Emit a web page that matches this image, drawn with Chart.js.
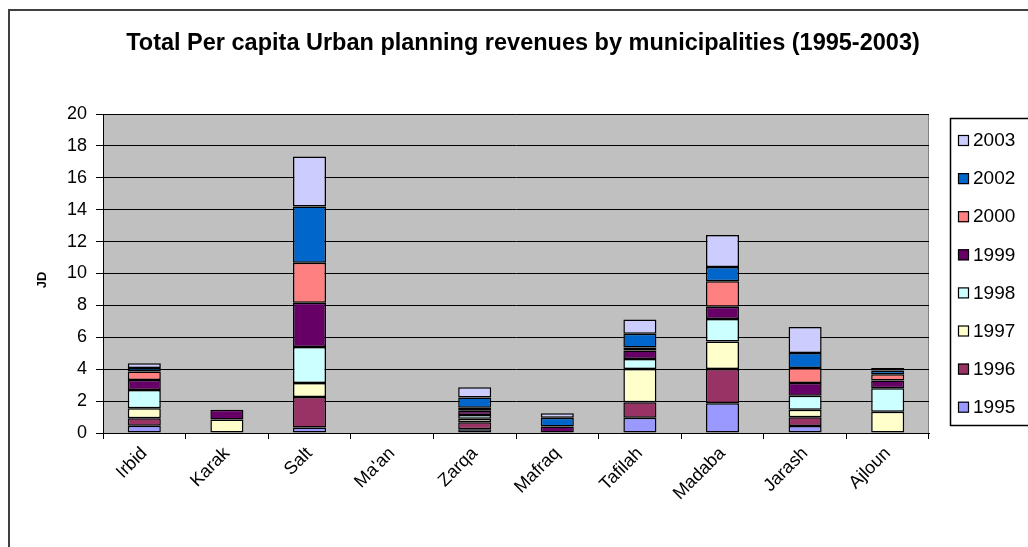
<!DOCTYPE html>
<html><head><meta charset="utf-8">
<script src="https://cdn.jsdelivr.net/npm/chart.js@4/dist/chart.umd.min.js"></script>
<style>
html,body{margin:0;padding:0;background:#fff;}
#wrap{position:relative;width:1028px;height:547px;}
#frame{position:absolute;left:8px;top:9px;width:1040px;height:560px;border:2px solid #404040;box-sizing:border-box;}
canvas{position:absolute;left:0;top:0;}
</style></head><body>
<div id="wrap"><div id="frame"></div><canvas id="c" width="1028" height="547"></canvas></div>
<script>
const categories = ["Irbid","Karak","Salt","Ma'an","Zarqa","Mafraq","Tafilah","Madaba","Jarash","Ajloun"];
const years = ["1995","1996","1997","1998","1999","2000","2002","2003"];
const v1995 = [0.45, 0,    0.34, 0, 0.23, 0,    0.96, 1.87, 0.44, 0];
const v1996 = [0.48, 0,    1.91, 0, 0.44, 0,    0.97, 2.14, 0.55, 0];
const v1997 = [0.62, 0.85, 0.88, 0, 0.23, 0,    2.08, 1.73, 0.46, 1.34];
const v1998 = [1.15, 0,    2.26, 0, 0.23, 0,    0.63, 1.41, 0.88, 1.47];
const v1999 = [0.63, 0.6,  2.77, 0, 0.27, 0.4,  0.54, 0.76, 0.80, 0.48];
const v2000 = [0.53, 0,    2.51, 0, 0.19, 0,    0.18, 1.61, 0.94, 0.40];
const v2002 = [0.21, 0,    3.53, 0, 0.63, 0.56, 0.87, 0.88, 0.94, 0.23];
const v2003 = [0.31, 0,    3.14, 0, 0.65, 0.28, 0.88, 2.01, 1.64, 0.15];
const yTicks = [0,2,4,6,8,10,12,14,16,18,20];
const colors = ["#9999FF","#993366","#FFFFCC","#CCFFFF","#660066","#FF8080","#0066CC","#CCCCFF"];
const seriesValues = [v1995,v1996,v1997,v1998,v1999,v2000,v2002,v2003];

const datasets = years.map((y,i)=>({
  label:y, data:seriesValues[i], backgroundColor:colors[i],
  borderColor:"#000", borderWidth:1.5, borderSkipped:false, inflateAmount:0,
  barPercentage:0.8, categoryPercentage:0.5
}));

const deco = {
  id:'deco',
  beforeDraw(chart){
    const {ctx, chartArea:a} = chart;
    ctx.save();
    ctx.fillStyle="#C0C0C0";
    ctx.fillRect(a.left,a.top,a.right-a.left,a.bottom-a.top);
    ctx.strokeStyle="#808080";ctx.lineWidth=1;
    ctx.strokeRect(a.left+0.5,a.top+0.5,a.right-a.left-1,a.bottom-a.top);
    ctx.restore();
  },
  afterDraw(chart){
    const ctx=chart.ctx;
    ctx.save();
    ctx.fillStyle="#000";
    ctx.font="bold 23.5px 'Liberation Sans', Arial, sans-serif";
    ctx.textAlign="center";ctx.textBaseline="alphabetic";
    ctx.fillText("Total Per capita Urban planning revenues by municipalities (1995-2003)",523,50);
    // axis title
    ctx.translate(42,280);ctx.rotate(-Math.PI/2);
    ctx.font="bold 13px 'Liberation Sans', Arial, sans-serif";
    ctx.textBaseline="middle";
    ctx.fillText("JD",0,0);
    ctx.restore();
    // legend
    ctx.save();
    ctx.fillStyle="#fff";ctx.fillRect(950,118,100,307);
    ctx.strokeStyle="#000";ctx.lineWidth=1.5;
    ctx.strokeRect(950.5,118.5,100,307);
    const ds=chart.data.datasets;
    ctx.font="19px 'Liberation Sans', Arial, sans-serif";
    ctx.textBaseline="middle";ctx.textAlign="left";
    for(let k=0;k<ds.length;k++){
      const d=ds[ds.length-1-k];
      const y=140+k*38.1;
      ctx.fillStyle=d.backgroundColor;
      ctx.fillRect(958,y-5,11,11);
      ctx.strokeStyle="#000";ctx.lineWidth=1.2;
      ctx.strokeRect(958.5,y-4.5,10,10);
      ctx.fillStyle="#000";
      ctx.fillText(d.label,973,y+1);
    }
    ctx.restore();
  }
};

new Chart(document.getElementById('c'),{
  type:'bar',
  data:{labels:categories,datasets},
  options:{
    responsive:false,animation:false,
    layout:{padding:{left:0,right:99,top:114,bottom:0}},
    plugins:{legend:{display:false},title:{display:false},tooltip:{enabled:false}},
    scales:{
      x:{stacked:true,
        grid:{drawOnChartArea:false,color:"#000",tickLength:6,offset:true},
        border:{color:"#000",width:1},
        ticks:{color:"#000",font:{family:"'Liberation Sans', Arial, sans-serif",size:18},maxRotation:45,minRotation:45,padding:4},
        afterFit(s){s.height=547-433;}
      },
      y:{stacked:true,min:0,max:20,
        afterBuildTicks(s){s.ticks=yTicks.map(v=>({value:v}));},
        grid:{color:"#000",tickLength:7,drawTicks:true},
        border:{color:"#000",width:1},
        ticks:{color:"#000",font:{family:"'Liberation Sans', Arial, sans-serif",size:18},padding:9},
        afterFit(s){s.width=103;}
      }
    }
  },
  plugins:[deco]
});
</script>
</body></html>
